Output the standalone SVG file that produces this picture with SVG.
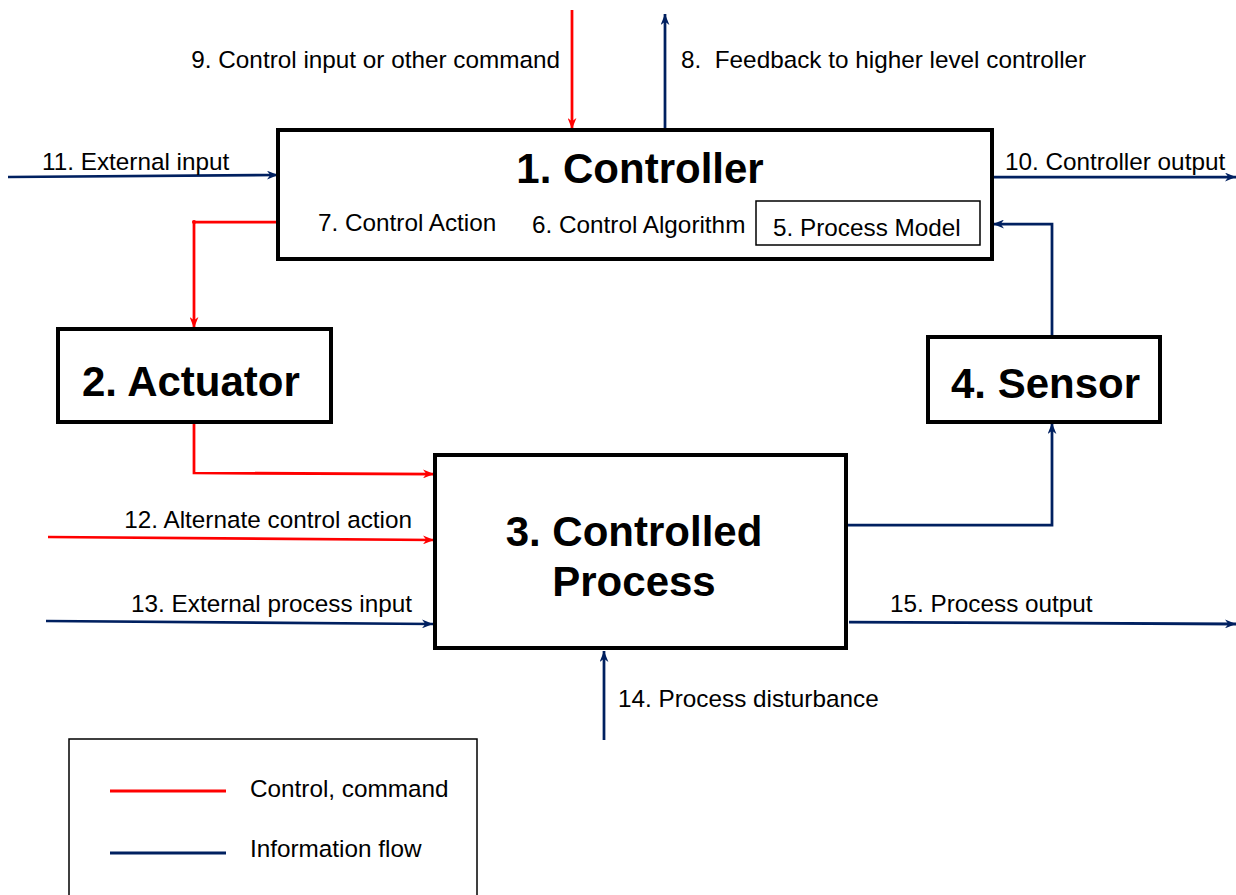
<svg xmlns="http://www.w3.org/2000/svg" width="1236" height="895" viewBox="0 0 1236 895">
<style>
.box{fill:#fff;stroke:#000;stroke-width:4}
.thin{fill:#fff;stroke:#000;stroke-width:1.5}
.title{font-family:"Liberation Sans",Arial,sans-serif;font-weight:bold;font-size:42px;fill:#000}
.lbl{font-family:"Liberation Sans",Arial,sans-serif;font-size:24.3px;fill:#000}
.red{fill:none;stroke:#ff0000;stroke-width:2.75}
.blue{fill:none;stroke:#002060;stroke-width:2.75}
</style>
<defs>
<marker id="ar" viewBox="0 0 10 8" refX="10" refY="4" markerWidth="11" markerHeight="9" markerUnits="userSpaceOnUse" orient="auto">
<path d="M0,0 L10,4 L0,8 L3,4 z" fill="#ff0000"/>
</marker>
<marker id="ab" viewBox="0 0 10 8" refX="10" refY="4" markerWidth="11" markerHeight="9" markerUnits="userSpaceOnUse" orient="auto">
<path d="M0,0 L10,4 L0,8 L3,4 z" fill="#002060"/>
</marker>
</defs>
<rect width="1236" height="895" fill="#fff"/>

<g id="connectors">
<path class="red" d="M572,10 V129" marker-end="url(#ar)"/>
<path class="blue" d="M665,130 V14" marker-end="url(#ab)"/>
<path class="blue" d="M8,177 L278,175" marker-end="url(#ab)"/>
<path class="blue" d="M992,177 L1236,177" marker-end="url(#ab)"/>
<path class="red" d="M278,222 H194 V328" marker-end="url(#ar)"/>
<circle cx="194" cy="222" r="2" fill="#ff0000"/>
<path class="blue" d="M1052,337 V224 H993" marker-end="url(#ab)"/>
<path class="red" d="M194,422 V473 L434,474" marker-end="url(#ar)"/>
<path class="red" d="M48,537 L434,540" marker-end="url(#ar)"/>
<path class="blue" d="M46,621 L433,624" marker-end="url(#ab)"/>
<path class="blue" d="M846,525 H1052 V423" marker-end="url(#ab)"/>
<path class="blue" d="M849,622 L1236,624" marker-end="url(#ab)"/>
<path class="blue" d="M604,740 V651" marker-end="url(#ab)"/>
</g>

<g id="controller">
<rect class="box" x="278" y="130" width="714" height="129"/>
<text class="title" x="640" y="183" text-anchor="middle">1. Controller</text>
<text class="lbl" x="318" y="231">7. Control Action</text>
<text class="lbl" x="532" y="233">6. Control Algorithm</text>
</g>
<g id="process-model">
<rect class="thin" x="756" y="201" width="224" height="44"/>
<text class="lbl" x="773" y="236">5. Process Model</text>
</g>
<g id="actuator">
<rect class="box" x="58" y="329" width="273" height="93"/>
<text class="title" x="82" y="396">2. Actuator</text>
</g>
<g id="sensor">
<rect class="box" x="928" y="337" width="232" height="85"/>
<text class="title" x="951" y="398">4. Sensor</text>
</g>
<g id="controlled-process">
<rect class="box" x="435" y="455" width="411" height="193"/>
<text class="title" x="634" y="546" text-anchor="middle">3. Controlled</text>
<text class="title" x="634" y="596" text-anchor="middle">Process</text>
</g>

<g id="labels">
<text class="lbl" x="560" y="68" text-anchor="end">9. Control input or other command</text>
<text class="lbl" x="681" y="68" xml:space="preserve">8.  Feedback to higher level controller</text>
<text class="lbl" x="42" y="170">11. External input</text>
<text class="lbl" x="1005" y="170">10. Controller output</text>
<text class="lbl" x="412" y="528" text-anchor="end">12. Alternate control action</text>
<text class="lbl" x="412" y="612" text-anchor="end">13. External process input</text>
<text class="lbl" x="890" y="612">15. Process output</text>
<text class="lbl" x="618" y="707">14. Process disturbance</text>
</g>

<g id="legend">
<rect class="thin" x="69" y="739" width="408" height="170"/>
<line x1="110" y1="791" x2="226" y2="791" stroke="#ff0000" stroke-width="3"/>
<text class="lbl" x="250" y="797">Control, command</text>
<line x1="110" y1="853" x2="226" y2="853" stroke="#002060" stroke-width="3"/>
<text class="lbl" x="250" y="857">Information flow</text>
</g>
</svg>
